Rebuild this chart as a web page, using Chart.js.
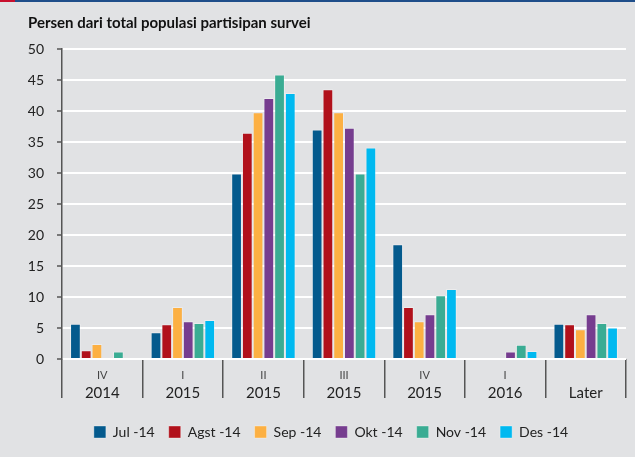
<!DOCTYPE html>
<html lang="id">
<head>
    <meta charset="UTF-8">
    <title>Persen dari total populasi partisipan survei</title>
    <script src="https://cdn.jsdelivr.net/npm/chart.js"></script>
    <style>
        html, body { margin: 0; padding: 0; background: #e1e2e4; }
        #wrap { width: 635px; height: 457px; position: relative; }
    </style>
</head>
<body>
    <div id="wrap">
        <canvas id="chart" width="635" height="457"></canvas>
    </div>

    <script>
        // data
        const quarters = ["IV", "I", "II", "III", "IV", "I", ""];
        const years = ["2014", "2015", "2015", "2015", "2015", "2016", "Later"];
        const seriesNames = ["Jul -14", "Agst -14", "Sep -14", "Okt -14", "Nov -14", "Des -14"];
        const jul14 = [5.7, 4.3, 29.9, 37.0, 18.5, null, 5.7];
        const agst14 = [1.4, 5.6, 36.5, 43.5, 8.4, null, 5.6];
        const sep14 = [2.4, 8.4, 39.8, 39.8, 6.1, null, 4.8];
        const okt14 = [null, 6.1, 42.1, 37.3, 7.2, 1.2, 7.2];
        const nov14 = [1.2, 5.8, 45.9, 29.9, 10.3, 2.3, 5.8];
        const des14 = [null, 6.3, 42.9, 34.1, 11.3, 1.3, 5.1];
        const yTicks = [0, 5, 10, 15, 20, 25, 30, 35, 40, 45, 50];

        const colors = ["#045a8d", "#b1111b", "#fcb043", "#763d8f", "#3aac93", "#00b9f0"];
        const allValues = [jul14, agst14, sep14, okt14, nov14, des14];
        const fontFam = "Lato, 'Open Sans', sans-serif";

        const frame = {
            id: "frame",
            afterLayout(chart) {
                // legenda sedikit ke kanan seperti aslinya
                chart.legend.left += 18;
                chart.legend.right += 18;
            },
            beforeDraw(chart) {
                const c = chart.ctx;
                c.save();
                c.fillStyle = "#e1e2e4";
                c.fillRect(0, 0, chart.width, chart.height);
                c.fillStyle = "#1f4e8a";
                c.fillRect(0, 0, chart.width, 2);
                c.fillStyle = "#c8102e";
                c.fillRect(0, 0, 15, 2);
                c.restore();
            },
            afterDraw(chart) {
                const c = chart.ctx;
                const x = chart.scales.x;
                c.save();
                c.fillStyle = "#111";
                c.font = "bold 15px " + fontFam;
                c.textAlign = "left";
                c.textBaseline = "middle";
                c.fillText("Persen dari total populasi partisipan survei", 28, 23);

                c.textAlign = "center";
                for (let i = 0; i < years.length; i++) {
                    const px = x.getPixelForValue(i);
                    c.fillStyle = "#444";
                    c.font = "11px " + fontFam;
                    c.fillText(quarters[i], px, 375);
                    c.fillStyle = "#222";
                    c.font = "15px " + fontFam;
                    c.fillText(years[i], px, 393);
                }
                c.restore();
            }
        };

        const ctx = document.getElementById("chart").getContext("2d");
        const chart = new Chart(ctx, {
            type: "bar",
            data: {
                labels: years,
                datasets: seriesNames.map((name, i) => ({
                    label: name,
                    data: allValues[i],
                    backgroundColor: colors[i],
                    borderColor: "rgba(255,255,255,0.35)",
                    borderWidth: 1,
                    borderSkipped: "bottom",
                    categoryPercentage: 0.8,
                    barPercentage: 1.0
                }))
            },
            options: {
                responsive: false,
                animation: false,
                layout: { padding: { top: 49, right: 9, left: 0, bottom: 8 } },
                scales: {
                    x: {
                        offset: true,
                        afterFit(scale) { scale.height = 52; },
                        grid: {
                            offset: true,
                            drawOnChartArea: false,
                            drawTicks: true,
                            tickLength: 39,
                            color: "#555",
                            lineWidth: 1.5
                        },
                        border: { display: false },
                        ticks: { display: false }
                    },
                    y: {
                        min: 0,
                        max: 50,
                        afterFit(scale) { scale.width = 62; },
                        afterBuildTicks(scale) { scale.ticks = yTicks.map(v => ({ value: v })); },
                        grid: {
                            color: "#ffffff",
                            lineWidth: 2,
                            tickLength: 5,
                            tickColor: "#555",
                            tickWidth: 1.5
                        },
                        border: { display: true, color: "#555", width: 1.5 },
                        ticks: {
                            padding: 13,
                            color: "#222",
                            font: { family: fontFam, size: 14 }
                        }
                    }
                },
                plugins: {
                    tooltip: { enabled: false },
                    legend: {
                        position: "bottom",
                        labels: {
                            boxWidth: 12,
                            boxHeight: 12,
                            padding: 14,
                            color: "#222",
                            font: { family: fontFam, size: 14 }
                        }
                    }
                }
            },
            plugins: [frame]
        });
    </script>
</body>
</html>
